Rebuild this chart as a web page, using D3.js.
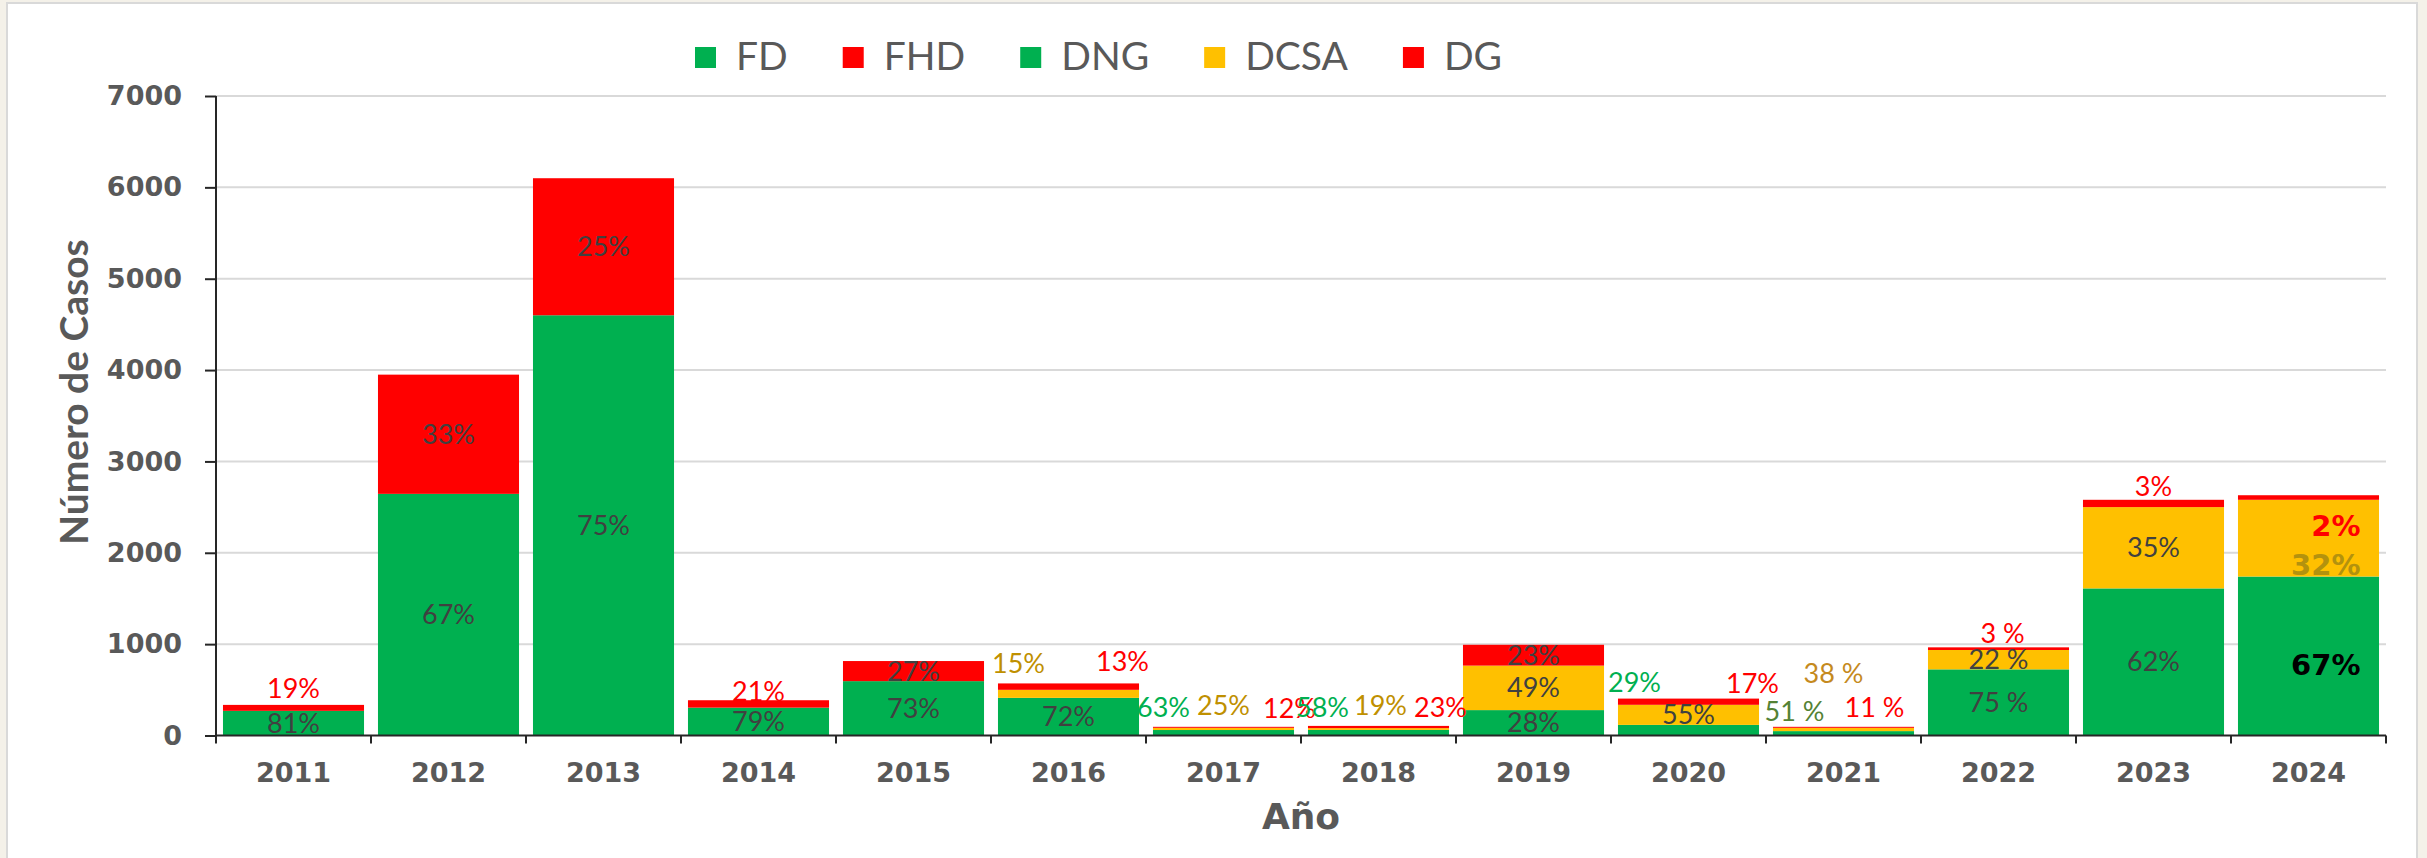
<!DOCTYPE html>
<html><head><meta charset="utf-8">
<script src="https://cdn.jsdelivr.net/npm/d3@7"></script>
<style>
html,body{margin:0;padding:0;background:#fff;}
svg{display:block;}
</style></head>
<body>
<script>
// ---------------- DATA ----------------
const years = [2011,2012,2013,2014,2015,2016,2017,2018,2019,2020,2021,2022,2023,2024];
const seriesKeys = ["FD","FHD","DNG","DCSA","DG"];
const FD   = [270,2645,4600,305,595,0,0,0,0,0,0,0,0,0];
const FHD  = [65,1305,1500,81,220,0,0,0,0,0,0,0,0,0];
const DNG  = [0,0,0,0,0,412,60,61,278,116,48,724,1610,1740];
const DCSA = [0,0,0,0,0,88,24,20,487,220,36,212,890,840];
const DG   = [0,0,0,0,0,70,11,24,228,68,11,29,80,50];
const yTicks = [0,1000,2000,3000,4000,5000,6000,7000];
const yTitle = "Número de Casos";
const xTitle = "Año";

// percentage label texts per year/series
const pctLabels = [
  [2011,"FD","81%"],[2011,"FHD","19%"],
  [2012,"FD","67%"],[2012,"FHD","33%"],
  [2013,"FD","75%"],[2013,"FHD","25%"],
  [2014,"FD","79%"],[2014,"FHD","21%"],
  [2015,"FD","73%"],[2015,"FHD","27%"],
  [2016,"DNG","72%"],[2016,"DCSA","15%"],[2016,"DG","13%"],
  [2017,"DNG","63%"],[2017,"DCSA","25%"],[2017,"DG","12%"],
  [2018,"DNG","58%"],[2018,"DCSA","19%"],[2018,"DG","23%"],
  [2019,"DNG","28%"],[2019,"DCSA","49%"],[2019,"DG","23%"],
  [2020,"DNG","29%"],[2020,"DCSA","55%"],[2020,"DG","17%"],
  [2021,"DNG","51 %"],[2021,"DCSA","38 %"],[2021,"DG","11 %"],
  [2022,"DNG","75 %"],[2022,"DCSA","22 %"],[2022,"DG","3 %"],
  [2023,"DNG","62%"],[2023,"DCSA","35%"],[2023,"DG","3%"],
  [2024,"DNG","67%"],[2024,"DCSA","32%"],[2024,"DG","2%"]
];

// ---------------- STYLE / PLACEMENT ----------------
const colors = {FD:"#00B050",FHD:"#FF0000",DNG:"#00B050",DCSA:"#FFC000",DG:"#FF0000"};
const txt = {dark:"#404040",red:"#FF0000",gold:"#BF9000",green:"#00B050",olive:"#548235",orange:"#C58A1E",black:"#000000",gold2:"#B3920E"};
// placement: key "year|series" -> [ref, dx, dy, color, anchor, style]
const placement = {
  "2011|FHD":["top",0,-7,"red"],
  "2014|FHD":["top",0,1,"red"],
  "2016|DCSA":["top",-50,-10,"gold"],
  "2016|DG":["top",54,-12,"red"],
  "2017|DNG":["top",-60,-10,"green"],
  "2017|DCSA":["top",0,-12,"gold"],
  "2017|DG":["top",66,-9,"red"],
  "2018|DNG":["top",-56,-9,"green"],
  "2018|DCSA":["top",2,-11,"gold"],
  "2018|DG":["top",62,-9,"red"],
  "2020|DNG":["top",-54,-7,"green"],
  "2020|DG":["top",64,-6,"red"],
  "2021|DNG":["top",-49,-6,"olive"],
  "2021|DCSA":["top",-10,-44,"orange"],
  "2021|DG":["top",31,-10,"red"],
  "2022|DG":["top",4,-4,"red"],
  "2023|DG":["top",0,-4,"red"],
  "2024|DG":["segBottom",52,36,"red","end","big"],
  "2024|DCSA":["segBottom",52,-2,"gold2","end","big"],
  "2024|DNG":["mid",52,19,"black","end","big"]
};

const W = 2427, H = 858;
const plot = {left:216, right:2386, top:96, bottom:735.5};

const svg = d3.select("body").append("svg").attr("width",W).attr("height",H);

// background / frame
svg.append("rect").attr("x",0).attr("y",0).attr("width",W).attr("height",H).attr("fill","#F4F1E9");
svg.append("rect").attr("x",7).attr("y",3).attr("width",2410).attr("height",H).attr("fill","#fff")
  .attr("stroke","#D9D9D9").attr("stroke-width",2);

const rows = years.map((yr,i)=>({year:yr,FD:FD[i],FHD:FHD[i],DNG:DNG[i],DCSA:DCSA[i],DG:DG[i]}));
const stack = d3.stack().keys(seriesKeys)(rows);

const x = d3.scaleBand().domain(years).range([plot.left,plot.right]).paddingInner(0.09).paddingOuter(0.045);
const y = d3.scaleLinear().domain([0,7000]).range([plot.bottom,plot.top]);

// gridlines
svg.append("g").selectAll("line").data(yTicks.filter(d=>d>0)).join("line")
  .attr("x1",plot.left).attr("x2",plot.right)
  .attr("y1",d=>y(d)).attr("y2",d=>y(d))
  .attr("stroke","#D9D9D9").attr("stroke-width",2);

// bars
const gBars = svg.append("g");
stack.forEach(s=>{
  gBars.append("g").attr("fill",colors[s.key]).selectAll("rect").data(s).join("rect")
    .attr("x",d=>x(d.data.year)).attr("width",x.bandwidth())
    .attr("y",d=>y(d[1])).attr("height",d=>Math.max(0,y(d[0])-y(d[1])));
});

// axes
const yAxis = svg.append("g").attr("transform",`translate(${plot.left},0)`)
  .call(d3.axisLeft(y).tickValues(yTicks).tickSize(11).tickPadding(23).tickFormat(d3.format("d")));
yAxis.select(".domain").attr("stroke","#262626").attr("stroke-width",2).attr("d",`M0,${plot.top}V${plot.bottom}`);
yAxis.selectAll(".tick line").attr("stroke","#262626").attr("stroke-width",2);
yAxis.selectAll("text").attr("fill","#595959").style("font-family","'DejaVu Sans'").style("font-weight","bold").style("font-size","27px");

const xAxis = svg.append("g").attr("transform",`translate(0,${plot.bottom})`)
  .call(d3.axisBottom(x).tickSize(0).tickPadding(27));
xAxis.select(".domain").attr("stroke","#262626").attr("stroke-width",2).attr("d",`M${plot.left},0H${plot.right}`);
xAxis.selectAll("text").attr("fill","#595959").style("font-family","'DejaVu Sans'").style("font-weight","bold").style("font-size","27px");
// category boundary ticks
const bounds = d3.range(years.length+1).map(i=>plot.left + i*x.step());
xAxis.append("g").selectAll("line").data(bounds).join("line")
  .attr("x1",d=>d).attr("x2",d=>d).attr("y1",0).attr("y2",8)
  .attr("stroke","#262626").attr("stroke-width",2);

// titles
svg.append("text").attr("transform","translate(88,545) rotate(-90)").attr("text-anchor","start")
  .attr("fill","#595959").style("font-family","Lato").style("font-weight","bold").style("font-size","39px").text(yTitle);
svg.append("text").attr("x",(plot.left+plot.right)/2).attr("y",829).attr("text-anchor","middle")
  .attr("fill","#595959").style("font-family","'DejaVu Sans'").style("font-weight","bold").style("font-size","36px").text(xTitle);

// legend
const legend = svg.append("g");
let lx = 695;
seriesKeys.forEach(k=>{
  legend.append("rect").attr("x",lx).attr("y",47).attr("width",21).attr("height",21).attr("fill",colors[k]);
  const t = legend.append("text").attr("x",lx+41).attr("y",70).attr("fill","#595959")
    .style("font-family","Lato").style("font-size","39px").text(k);
  lx += 41 + t.node().getComputedTextLength() + 55;
});

// labels
const segOf = (yr,key)=>{
  const s = stack.find(s=>s.key===key);
  return s[years.indexOf(yr)];
};
const gLab = svg.append("g");
pctLabels.forEach(([yr,key,text])=>{
  const seg = segOf(yr,key);
  const cx = x(yr)+x.bandwidth()/2;
  const p = placement[yr+"|"+key] || ["mid",0,9.5,"dark"];
  const [ref,dx,dy,col,anchor,style] = p;
  let ry;
  if(ref==="mid") ry = (y(seg[0])+y(seg[1]))/2;
  else if(ref==="top") ry = y(seg.data.FD+seg.data.FHD+seg.data.DNG+seg.data.DCSA+seg.data.DG);
  else if(ref==="segBottom") ry = y(seg[0]);
  const t = gLab.append("text").attr("x",cx+dx).attr("y",ry+dy)
    .attr("text-anchor",anchor||"middle").attr("fill",txt[col]).text(text);
  if(style==="big"){
    t.style("font-family","'DejaVu Sans'").style("font-weight","bold").style("font-size","29px");
  } else {
    t.style("font-family","Lato").style("font-size","27px");
  }
});
</script>
</body></html>
